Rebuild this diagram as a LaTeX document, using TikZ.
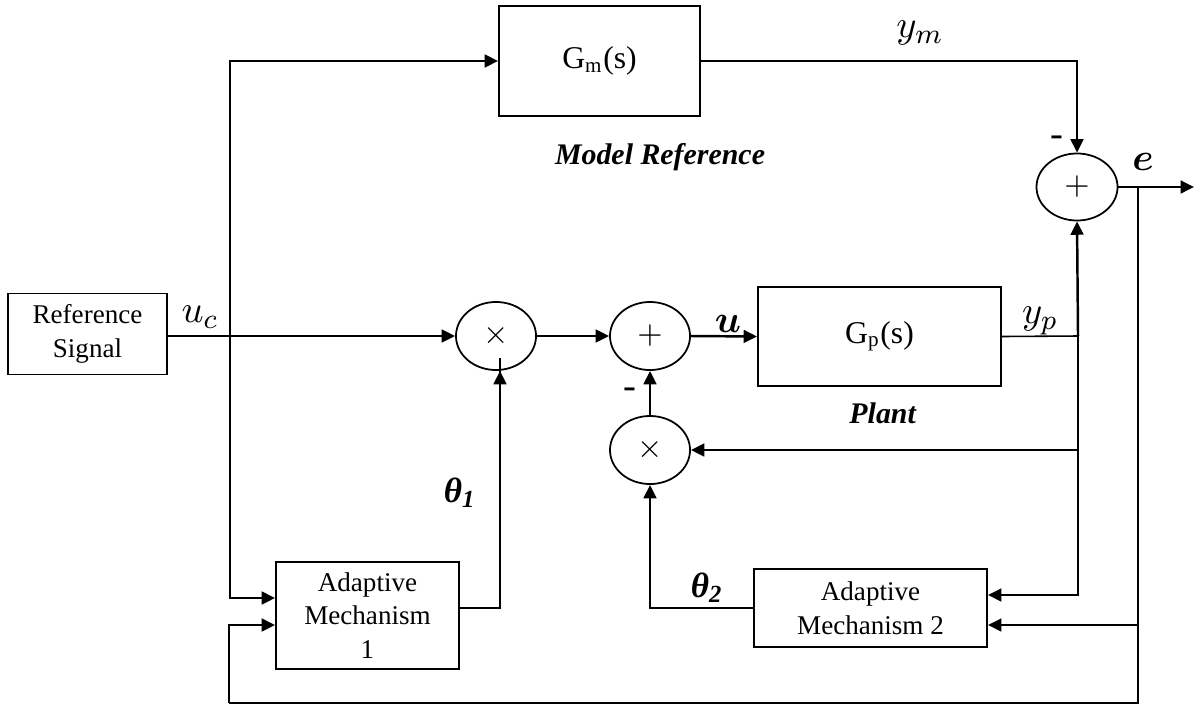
\documentclass[tikz,border=0pt]{standalone}
\usepackage{fontspec}
\setmainfont{Liberation Serif}
\usepackage{bm}
\usetikzlibrary{shapes.geometric,arrows.meta,calc}

\begin{document}
\begin{tikzpicture}[
		x=0.01cm, y=-0.01cm,
		block/.style={draw, rectangle, line width=0.5pt, align=center, inner sep=0pt, font=\fontsize{7.7}{9.6}\selectfont},
		junc/.style={draw, ellipse, minimum width=0.8cm, minimum height=0.68cm, inner sep=0pt, line width=0.5pt, font=\fontsize{9.5}{11}\selectfont},
		sig/.style={-{Triangle[length=3.8pt,width=3.6pt]}, line width=0.7pt},
		wire/.style={line width=0.45pt},
		lbl/.style={font=\fontsize{11}{13}\selectfont}
	]
		\useasboundingbox (0,0) rectangle (1195,706);
		
		% Blocks
		\node[block, minimum width=1.59cm, minimum height=0.81cm] (ref) at (87.5,334) {Reference\\Signal};
		\node[block, minimum width=2.01cm, minimum height=1.1cm, font=\fontsize{9}{11}\selectfont] (gm) at (599.5,61) {G$_{\mathrm{m}}$(s)};
		\node[block, minimum width=2.43cm, minimum height=0.99cm, font=\fontsize{9}{11}\selectfont] (gp) at (879.5,336.5) {G$_{\mathrm{p}}$(s)};
		\node[block, minimum width=1.83cm, minimum height=1.07cm] (am1) at (367.5,615.5) {Adaptive\\Mechanism\\1};
		\node[block, minimum width=2.33cm, minimum height=0.78cm] (am2) at (870.5,608) {Adaptive\\Mechanism 2};
		
		% Junctions
		\node[junc] (mul1) at (496,336) {$\times$};
		\node[junc] (sum1) at (650,336) {$+$};
		\node[junc] (mul2) at (650,450) {$\times$};
		\node[junc, minimum width=0.81cm, minimum height=0.67cm] (sum2) at (1077,187) {$+$};
		
		% Branch points
		\coordinate (split) at (230,336);
		\coordinate (tap) at (1078,336);
		\coordinate (eb) at (1138,187);
		\coordinate (out) at (1194,187);
		\coordinate (ebot) at (1138,703);
		\coordinate (lbot) at (229,703);
		\coordinate (am1in1) at ($(am1.west)+(0,-17.5)$);
		\coordinate (am1in2) at ($(am1.west)+(0,9.5)$);
		\coordinate (am1out) at ($(am1.east)+(0,-7.5)$);
		\coordinate (am2in1) at ($(am2.east)+(0,-13)$);
		\coordinate (am2in2) at ($(am2.east)+(0,17)$);
		
		% Signals
		\draw[wire] (ref.east |- split) -- (split);
		\draw[sig] (split) -- (mul1.west);
		\draw[sig] (split) |- (gm.west);
		\draw[sig] (split) |- (am1in1);
		\draw[sig] (mul1.east) -- (sum1.west);
		\draw[sig] (sum1.east) -- (gp.west);
		\draw[wire] (gp.east) -- (tap);
		\draw[sig] (tap) -- (sum2.south);
		\draw[sig] (tap) |- (am2in1);
		\draw[sig] (tap |- mul2) -- (mul2.east);
		\draw[sig] (gm.east) -| (sum2.north);
		\draw[sig] (sum2.east) -- (out);
		\draw[wire] (eb) -- (ebot) -- (lbot);
		\draw[sig] (lbot) |- (am1in2);
		\draw[sig] (eb |- am2in2) -- (am2in2);
		\draw[sig] (am1out) -| (500,0 |- mul1.south) -- (mul1.south -| 500,0);
		\draw[sig] (am2.west) -| (mul2.south);
		\draw[sig] (mul2.north) -- (sum1.south);
		
		% Labels
		\node[lbl] (uc) at (200,317) {$u_c$};
		\node[lbl] (ym) at (920,33) {$y_m$};
		\node[lbl] (yp) at (1040,321) {$y_p$};
		\node[lbl] (u) at (728,324) {$\bm{u}$};
		\node[lbl] (e) at (1143,162) {$\bm{e}$};
		\node[lbl, font=\fontsize{10}{12}\selectfont] (th1) at (460,493) {\textbf{\textit{θ\textsubscript{1}}}};
		\node[lbl, font=\fontsize{10}{12}\selectfont] (th2) at (707,588) {\textbf{\textit{θ\textsubscript{2}}}};
		\node[lbl] (mneg1) at (1057,141) {-};
		\node[lbl] (mneg2) at (630,393) {-};
		\node[lbl, font=\fontsize{8.5}{10}\selectfont] (mref) at (660,157) {\textbf{\textit{Model Reference}}};
		\node[lbl, font=\fontsize{8.5}{10}\selectfont] (plant) at (883,413) {\textbf{\textit{Plant}}};
	\end{tikzpicture}
\end{document}
